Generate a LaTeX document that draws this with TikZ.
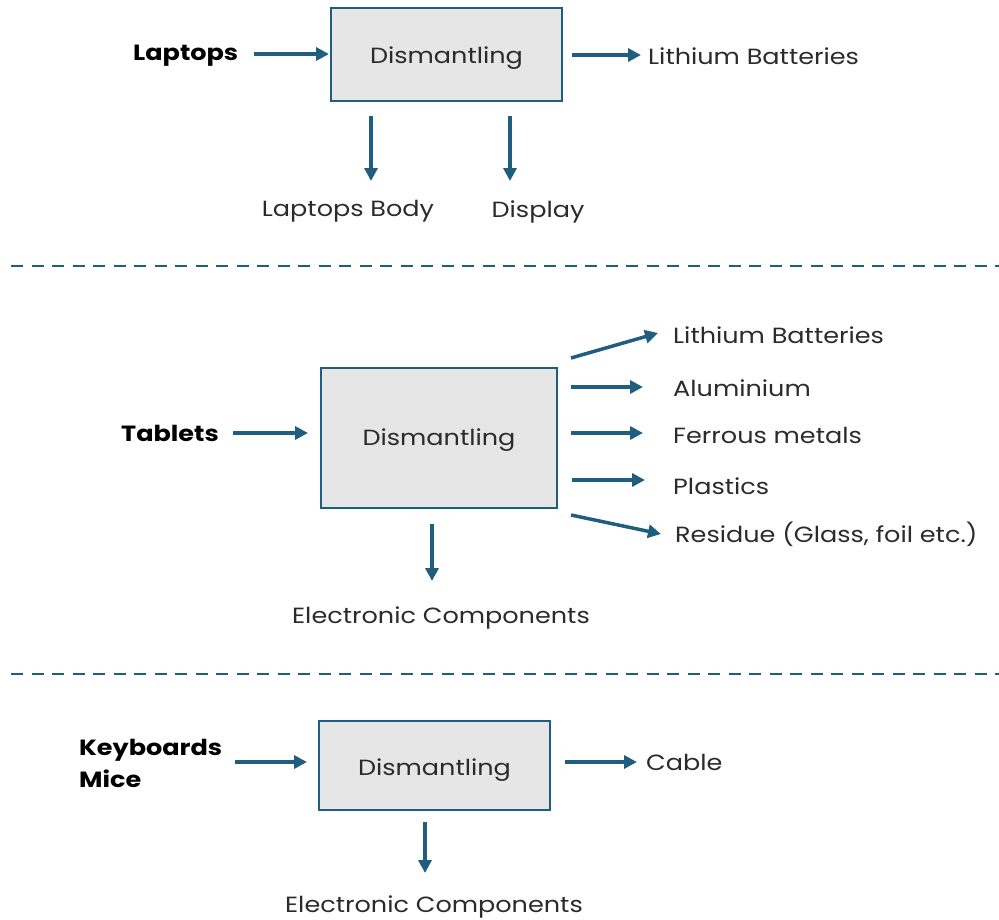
\documentclass[tikz,border=0pt]{standalone}
\usepackage{fontspec}
\setmainfont[FakeStretch=1.16]{Poppins}
\usetikzlibrary{arrows.meta}
\definecolor{flow}{HTML}{1F5E7E}
\definecolor{boxfill}{HTML}{E6E6E6}
\definecolor{txt}{HTML}{2B2B2B}
\tikzset{
  stage/.style={draw=flow, line width=2.5pt, fill=boxfill, inner sep=0pt, text=txt,
    text height=18.5pt, text depth=0pt, font=\fontsize{22}{26}\selectfont},
  lbl/.style={inner sep=0pt, text=txt, font=\fontsize{22}{26}\selectfont},
  src/.style={inner sep=0pt, text=black, font=\fontsize{22}{32}\selectfont\bfseries, align=left},
  arr/.style={draw=flow, line width=3.5pt, -{Triangle[length=13pt,width=13pt]}},
  sep/.style={draw=flow, line width=2.5pt, dash pattern=on 12pt off 8.5pt},
}
\begin{document}
\begin{tikzpicture}[x=1pt,y=-1pt]
\useasboundingbox (0,0) rectangle (999,919);

% ---- Laptops ----
\node[stage, minimum width=231pt, minimum height=93pt] (b1) at (446.5,54.5) {Dismantling};
\node[src, anchor=base west] (lap) at (133,60) {Laptops};
\node[lbl, anchor=base west] (lb1) at (648,64) {Lithium Batteries};
\node[lbl, anchor=base] (body) at (348,216) {Laptops Body};
\node[lbl, anchor=base] (disp) at (538,217) {Display};
\coordinate (p1) at (254,54);  \coordinate (q1) at (329,54);
\coordinate (p2) at (572,55);  \coordinate (q2) at (641,55);
\coordinate (p3) at (371,116); \coordinate (q3) at (371,181);
\coordinate (p4) at (510,116); \coordinate (q4) at (510,181);
\draw[arr] (p1) -- (q1);
\draw[arr] (p2) -- (q2);
\draw[arr] (p3) -- (q3);
\draw[arr] (p4) -- (q4);

\draw[sep] (11,266) -- (999,266);

% ---- Tablets ----
\node[stage, text height=15.5pt, minimum width=236pt, minimum height=140pt] (b2) at (439,438) {Dismantling};
\node[src, anchor=base west] (tab) at (121,441) {Tablets};
\node[lbl, anchor=base west] (t1) at (673,343) {Lithium Batteries};
\node[lbl, anchor=base west] (t2) at (673,396) {Aluminium};
\node[lbl, anchor=base west] (t3) at (673,443) {Ferrous metals};
\node[lbl, anchor=base west] (t4) at (673,494) {Plastics};
\node[lbl, anchor=base west] (t5) at (675,542) {Residue (Glass, foil etc.)};
\node[lbl, anchor=base] (ec2) at (441,623) {Electronic Components};
\coordinate (r0) at (233,433); \coordinate (s0) at (308,433);
\coordinate (r1) at (571,358); \coordinate (s1) at (658,333);
\coordinate (r2) at (571,387); \coordinate (s2) at (643,387);
\coordinate (r3) at (571,433); \coordinate (s3) at (643,433);
\coordinate (r4) at (572,480); \coordinate (s4) at (645,480);
\coordinate (r5) at (571,515); \coordinate (s5) at (661,534);
\coordinate (r6) at (432,524); \coordinate (s6) at (432,581);
\foreach \i in {0,...,6} { \draw[arr] (r\i) -- (s\i); }

\draw[sep] (11,674) -- (999,674);

% ---- Keyboards and mice ----
\node[stage, text height=20.5pt, minimum width=231pt, minimum height=89pt] (b3) at (434.5,765.5) {Dismantling};
\node[src, anchor=base west] (kbd) at (79,787) {Keyboards\\Mice};
\node[lbl, anchor=base west] (cab) at (646,770) {Cable};
\node[lbl, anchor=base] (ec3) at (434,912) {Electronic Components};
\coordinate (u1) at (235,762); \coordinate (v1) at (307,762);
\coordinate (u2) at (565,762); \coordinate (v2) at (637,762);
\coordinate (u3) at (425,822); \coordinate (v3) at (425,873);
\draw[arr] (u1) -- (v1);
\draw[arr] (u2) -- (v2);
\draw[arr] (u3) -- (v3);
\end{tikzpicture}
\end{document}
